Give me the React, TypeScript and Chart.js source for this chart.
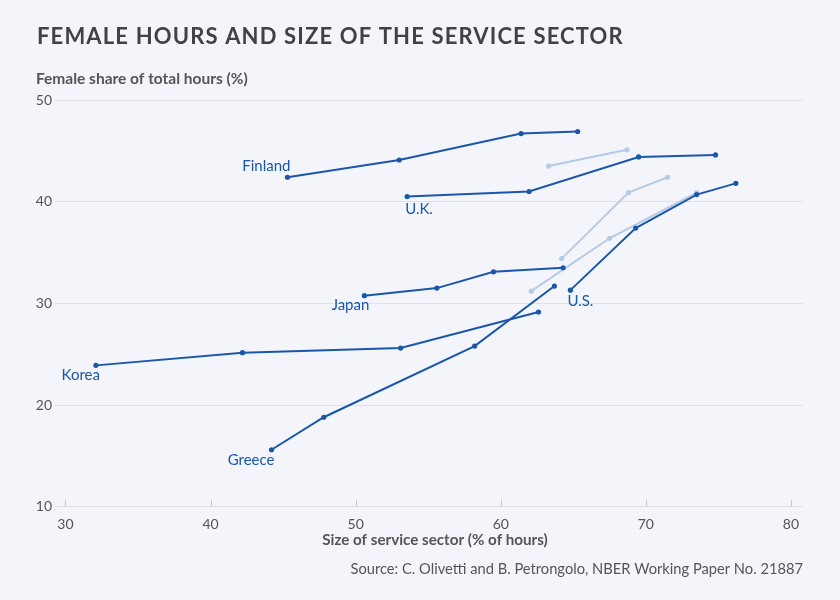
import React, { useEffect, useRef } from "react";
import { Chart, registerables } from "chart.js";

Chart.register(...registerables);

// ---- Data ----
const finlandX = [45.3, 53.0, 61.4, 65.3];
const finlandY = [42.4, 44.1, 46.7, 46.9];
const ukX = [53.55, 61.95, 69.5, 74.8];
const ukY = [40.5, 41.0, 44.4, 44.6];
const japanX = [50.6, 55.6, 59.5, 64.3];
const japanY = [30.75, 31.5, 33.1, 33.5];
const usX = [64.8, 69.3, 73.5, 76.2];
const usY = [31.3, 37.4, 40.7, 41.8];
const koreaX = [32.1, 42.2, 53.1, 62.6];
const koreaY = [23.9, 25.15, 25.6, 29.15];
const greeceX = [44.2, 47.8, 58.2, 63.7];
const greeceY = [15.6, 18.8, 25.8, 31.7];
const lightAX = [63.3, 68.7];
const lightAY = [43.5, 45.1];
const lightBX = [64.2, 68.8, 71.5];
const lightBY = [34.4, 40.9, 42.4];
const lightCX = [62.1, 67.5, 73.5];
const lightCY = [31.2, 36.4, 40.9];

const xTicks = [30, 40, 50, 60, 70, 80];
const yTicks = [10, 20, 30, 40, 50];

const title = "FEMALE HOURS AND SIZE OF THE SERVICE SECTOR";
const yTitle = "Female share of total hours (%)";
const xTitle = "Size of service sector (% of hours)";
const source = "Source: C. Olivetti and B. Petrongolo, NBER Working Paper No. 21887";

// ---- Styles ----
const DARK = "#1a57aa";
const LIGHT = "#b6c9e5";
const BG = "#f3f5fa";
const FONT = "Lato, 'Open Sans', sans-serif";

const zip = (xs: number[], ys: number[]) => xs.map((x, i) => ({ x, y: ys[i] }));

type LabelCfg = { text: string; idx: number; dx: number; dy: number; align: CanvasTextAlign };

const series: { name: string; xs: number[]; ys: number[]; light: boolean; label?: LabelCfg }[] = [
  { name: "Finland", xs: finlandX, ys: finlandY, light: false, label: { text: "Finland", idx: 0, dx: 3, dy: -11, align: "right" } },
  { name: "U.K.", xs: ukX, ys: ukY, light: false, label: { text: "U.K.", idx: 0, dx: -2, dy: 13, align: "left" } },
  { name: "Japan", xs: japanX, ys: japanY, light: false, label: { text: "Japan", idx: 0, dx: 5, dy: 9, align: "right" } },
  { name: "U.S.", xs: usX, ys: usY, light: false, label: { text: "U.S.", idx: 0, dx: -3, dy: 11, align: "left" } },
  { name: "Korea", xs: koreaX, ys: koreaY, light: false, label: { text: "Korea", idx: 0, dx: 4, dy: 10, align: "right" } },
  { name: "Greece", xs: greeceX, ys: greeceY, light: false, label: { text: "Greece", idx: 0, dx: 3, dy: 10, align: "right" } },
  { name: "light A", xs: lightAX, ys: lightAY, light: true },
  { name: "light B", xs: lightBX, ys: lightBY, light: true },
  { name: "light C", xs: lightCX, ys: lightCY, light: true },
];

const decorPlugin = {
  id: "decor",
  beforeDraw(chart: any) {
    const ctx = chart.ctx;
    ctx.save();
    ctx.fillStyle = BG;
    ctx.fillRect(0, 0, chart.width, chart.height);
    ctx.restore();
  },
  beforeDatasetsDraw(chart: any) {
    const ctx = chart.ctx;
    const xs = chart.scales.x;
    const bottom = chart.chartArea.bottom;
    ctx.save();
    ctx.strokeStyle = "#c8c9ce";
    ctx.lineWidth = 1;
    xTicks.forEach((v) => {
      const px = Math.round(xs.getPixelForValue(v)) + 0.5;
      ctx.beginPath();
      ctx.moveTo(px, bottom - 7);
      ctx.lineTo(px, bottom);
      ctx.stroke();
    });
    ctx.restore();
  },
  afterDraw(chart: any) {
    const ctx = chart.ctx;
    ctx.save();
    ctx.textBaseline = "alphabetic";
    // title
    ctx.fillStyle = "#424242";
    ctx.font = `bold 22px ${FONT}`;
    ctx.textAlign = "left";
    (ctx as any).letterSpacing = "1.15px";
    ctx.fillText(title, 37, 44);
    (ctx as any).letterSpacing = "0px";
    // y title
    ctx.fillStyle = "#555555";
    ctx.font = `bold 15.5px ${FONT}`;
    ctx.fillText(yTitle, 36, 84);
    // x title
    ctx.font = `bold 15.2px ${FONT}`;
    ctx.textAlign = "center";
    ctx.fillText(xTitle, 435, 545);
    // source
    ctx.font = `14.7px ${FONT}`;
    ctx.textAlign = "right";
    ctx.fillText(source, 803, 574);
    // country labels
    ctx.font = `15px ${FONT}`;
    ctx.fillStyle = DARK;
    ctx.textBaseline = "middle";
    const sx = chart.scales.x;
    const sy = chart.scales.y;
    series.forEach((s) => {
      if (!s.label) return;
      const l = s.label;
      const px = sx.getPixelForValue(s.xs[l.idx]);
      const py = sy.getPixelForValue(s.ys[l.idx]);
      ctx.textAlign = l.align;
      ctx.fillText(l.text, px + l.dx, py + l.dy);
    });
    ctx.restore();
  },
};

export default function App() {
  const ref = useRef<HTMLCanvasElement | null>(null);
  useEffect(() => {
    if (!ref.current) return;
    const chart = new Chart(ref.current, {
      type: "scatter",
      data: {
        datasets: series.map((s) => ({
          label: s.name,
          data: zip(s.xs, s.ys),
          showLine: true,
          borderColor: s.light ? LIGHT : DARK,
          backgroundColor: s.light ? LIGHT : DARK,
          borderWidth: 2,
          pointRadius: 2.6,
          pointHoverRadius: 2.6,
          pointBorderWidth: 0,
          order: s.light ? 2 : 1,
        })),
      },
      options: {
        responsive: false,
        animation: false,
        events: [],
        layout: { padding: { top: 100, right: 37, left: 0, bottom: 0 } },
        plugins: { legend: { display: false }, title: { display: false }, tooltip: { enabled: false } },
        scales: {
          x: {
            type: "linear",
            min: 29.28,
            max: 80.83,
            afterBuildTicks: (scale: any) => {
              scale.ticks = xTicks.map((v) => ({ value: v }));
            },
            afterFit: (scale: any) => {
              scale.height = 600 - 506.7;
            },
            grid: { display: false, drawTicks: false },
            border: { display: false },
            ticks: {
              padding: 9,
              color: "#555555",
              font: { family: FONT, size: 14 },
            },
          },
          y: {
            type: "linear",
            min: 10,
            max: 50,
            afterBuildTicks: (scale: any) => {
              scale.ticks = yTicks.map((v) => ({ value: v }));
            },
            afterFit: (scale: any) => {
              scale.width = 55;
            },
            grid: { color: "#e0e1e6", lineWidth: 1, drawTicks: false },
            border: { display: false },
            ticks: {
              padding: 3,
              color: "#555555",
              font: { family: FONT, size: 14 },
            },
          },
        },
      },
      plugins: [decorPlugin],
    } as any);
    return () => chart.destroy();
  }, []);
  return (
    <div style={{ position: "absolute", left: 0, top: 0, width: 840, height: 600, background: BG }}>
      <canvas ref={ref} width={840} height={600} style={{ display: "block" }} />
    </div>
  );
}
